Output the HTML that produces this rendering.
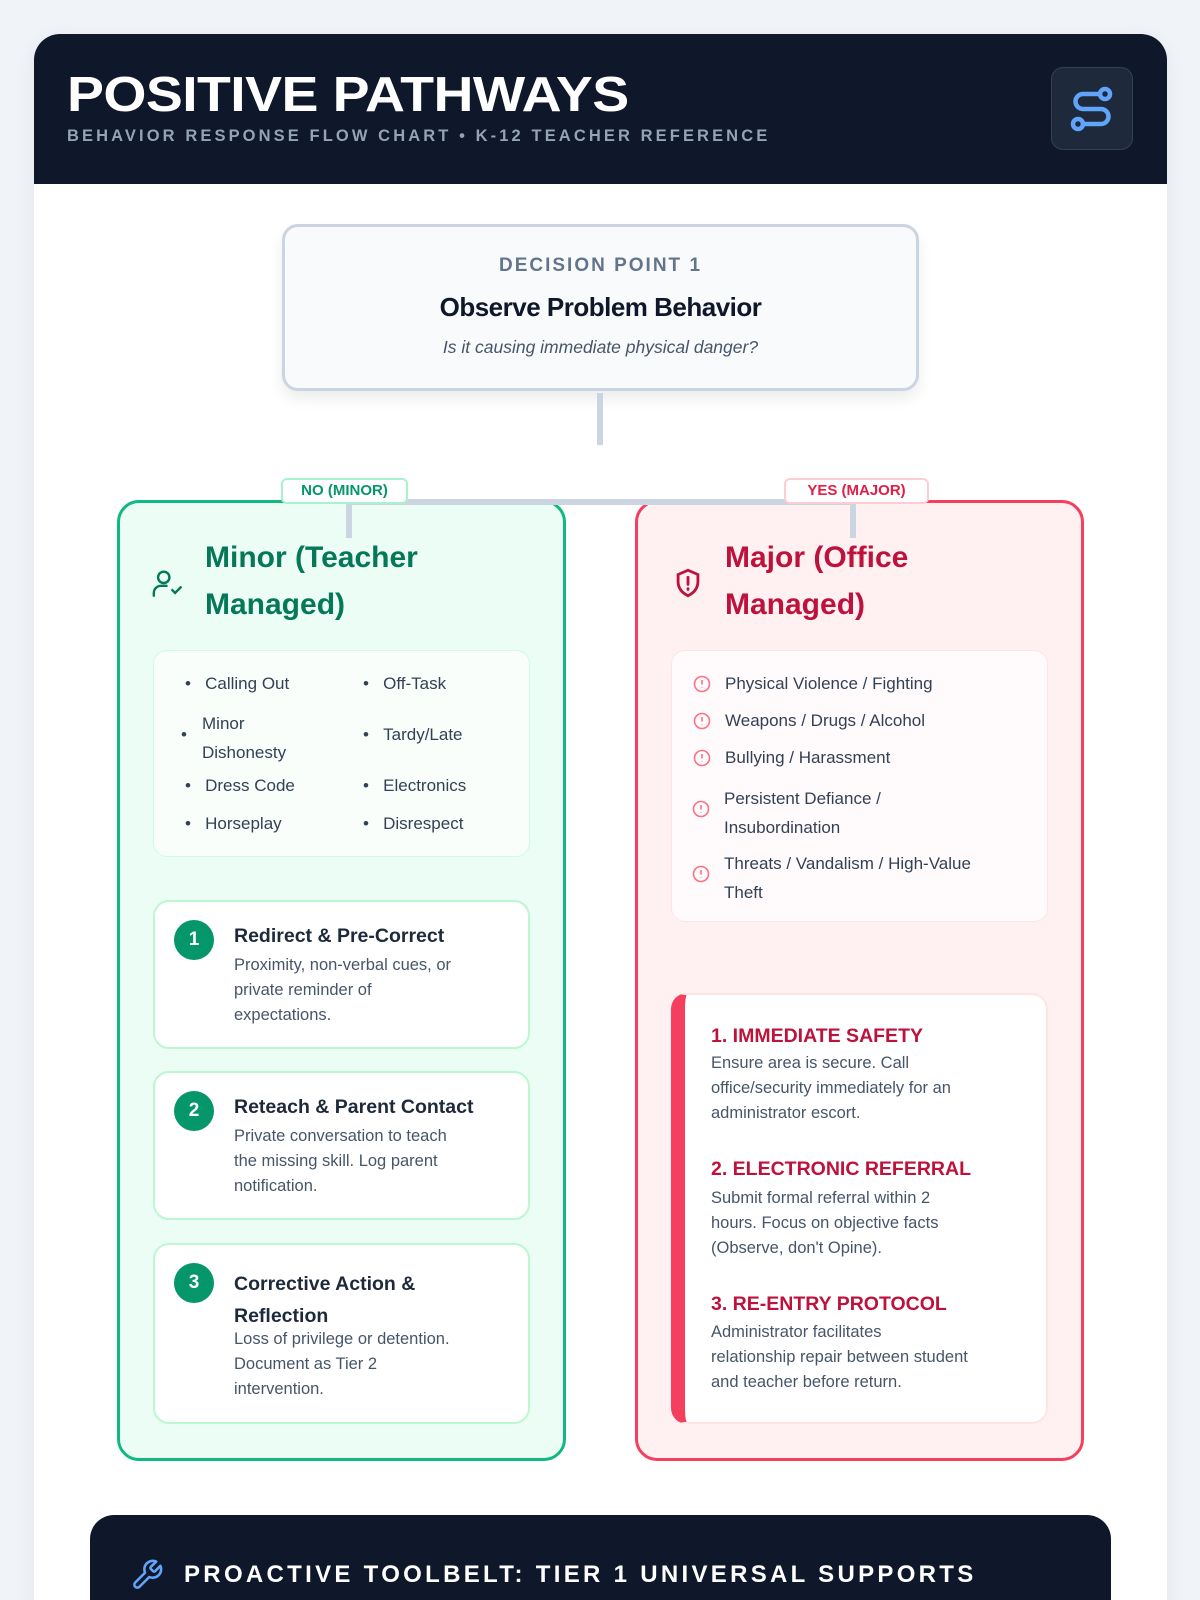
<!DOCTYPE html>
<html style="width:1200px;height:1600px;overflow:hidden"><head><meta charset="utf-8"><style>
*{box-sizing:border-box;margin:0;padding:0}
body{width:1200px;height:1600px;overflow:hidden;background:#f0f3f7;font-family:"Liberation Sans",sans-serif}
#wrap{position:relative;width:1200px;height:1600px;overflow:hidden}
.a{position:absolute}
.card{left:34px;top:34px;width:1133px;height:1600px;background:#fff;border-radius:26px;overflow:hidden;box-shadow:0 4px 20px rgba(15,23,42,.06)}
.hdr{left:0;top:0;width:1133px;height:150px;background:#0f172a}
.t{white-space:nowrap}
.li{font-size:17px;color:#334155}
.step{background:#fff;border:2px solid #bbf7d0;border-radius:16px}
.num{width:40px;height:40px;border-radius:50%;background:#059669;color:#fff;font-weight:bold;font-size:19px;text-align:center;line-height:40px}
.st{font-size:19.5px;font-weight:bold;color:#1e293b}
.sd{font-size:16.5px;color:#475569;line-height:25px}
.mh{font-size:19.5px;font-weight:bold;color:#be123c}
.md{font-size:16.5px;color:#475569;line-height:25px}
</style></head><body><div id="wrap">
<div class="a card">
 <div class="a hdr"></div>
 <div class="a t" style="left:33px;top:33px;font-size:49px;font-weight:900;color:#fff;letter-spacing:-0.5px;transform:scaleX(1.13);transform-origin:0 0">POSITIVE PATHWAYS</div>
 <div class="a t" style="left:33px;top:93px;font-size:16.5px;font-weight:bold;color:#94a3b8;letter-spacing:3.1px">BEHAVIOR RESPONSE FLOW CHART • K-12 TEACHER REFERENCE</div>
 <div class="a" style="left:1017px;top:33px;width:82px;height:83px;background:#1e293b;border-radius:12px;border:1px solid #334155"></div>
 <svg class="a" style="left:1033px;top:50px" width="50" height="50" viewBox="0 0 50 50" fill="none" stroke="#60a5fa" stroke-width="4.5" stroke-linecap="round"><circle cx="38" cy="10" r="5"/><circle cx="11" cy="40" r="5"/><path d="M33 10H16a7.5 7.5 0 0 0 0 15h18a7.5 7.5 0 0 1 0 15H16"/></svg>
</div>

<div class="a" style="left:282px;top:224px;width:637px;height:167px;background:#f8fafc;border:3px solid #cbd5e1;border-radius:16px;box-shadow:0 8px 14px rgba(15,23,42,.08)"></div>
<div class="a t" style="left:282px;width:637px;top:255px;text-align:center;font-size:19px;font-weight:bold;color:#64748b;letter-spacing:2px">DECISION POINT 1</div>
<div class="a t" style="left:282px;width:637px;top:292px;text-align:center;font-size:26px;font-weight:bold;color:#0f172a;letter-spacing:-.5px">Observe Problem Behavior</div>
<div class="a t" style="left:282px;width:637px;top:337px;text-align:center;font-size:17.5px;font-style:italic;color:#475569">Is it causing immediate physical danger?</div>
<div class="a" style="left:597px;top:393px;width:6px;height:52px;background:#cbd5e1"></div>

<div class="a" style="left:117px;top:500px;width:449px;height:961px;background:#ecfdf5;border:3px solid #10b981;border-radius:22px"></div>
<div class="a" style="left:635px;top:500px;width:449px;height:961px;background:#fff1f2;border:3px solid #f43f5e;border-radius:22px"></div>
<div class="a" style="left:346px;top:499px;width:510px;height:6px;background:#cbd5e1"></div>
<div class="a" style="left:346px;top:499px;width:6px;height:39px;background:#cbd5e1"></div>
<div class="a" style="left:850px;top:499px;width:6px;height:39px;background:#cbd5e1"></div>
<div class="a t" style="left:281px;top:478px;width:127px;height:26px;background:#fff;border:2px solid #a7f3d0;border-radius:6px;text-align:center;font-size:15px;font-weight:bold;color:#059669;line-height:22px">NO (MINOR)</div>
<div class="a t" style="left:784px;top:478px;width:145px;height:26px;background:#fff;border:2px solid #fecdd3;border-radius:6px;text-align:center;font-size:15px;font-weight:bold;color:#e11d48;line-height:22px">YES (MAJOR)</div>

<svg class="a" style="left:151px;top:566px" width="34" height="34" viewBox="0 0 24 24" fill="none" stroke="#047857" stroke-width="1.7" stroke-linecap="round"><circle cx="9" cy="8" r="4"/><path d="M2 21v-2a5 5 0 0 1 5-5h4"/><path d="M15 17l2 2 4-4"/></svg>
<div class="a" style="left:205px;top:534px;font-size:30px;font-weight:bold;color:#047857;line-height:47px">Minor (Teacher<br>Managed)</div>
<svg class="a" style="left:671px;top:566px" width="34" height="34" viewBox="0 0 24 24" fill="none" stroke="#be123c" stroke-width="2" stroke-linecap="round"><path d="M12 3l7 3v5c0 5-3 8-7 10-4-2-7-5-7-10V6z"/><path d="M12 8v5M12 16v.5"/></svg>
<div class="a" style="left:725px;top:534px;font-size:30px;font-weight:bold;color:#be123c;line-height:47px">Major (Office<br>Managed)</div>

<div class="a" style="left:153px;top:650px;width:377px;height:207px;background:#f9fefb;border:1.5px solid #d1fae5;border-radius:14px"></div>
<div class="a li t" style="left:185px;top:674px">•&nbsp;&nbsp;&nbsp;Calling Out</div>
<div class="a li t" style="left:363px;top:674px">•&nbsp;&nbsp;&nbsp;Off-Task</div>
<div class="a li t" style="left:181px;top:725px">•</div>
<div class="a li" style="left:202px;top:709px;line-height:29px">Minor<br>Dishonesty</div>
<div class="a li t" style="left:363px;top:725px">•&nbsp;&nbsp;&nbsp;Tardy/Late</div>
<div class="a li t" style="left:185px;top:776px">•&nbsp;&nbsp;&nbsp;Dress Code</div>
<div class="a li t" style="left:363px;top:776px">•&nbsp;&nbsp;&nbsp;Electronics</div>
<div class="a li t" style="left:185px;top:814px">•&nbsp;&nbsp;&nbsp;Horseplay</div>
<div class="a li t" style="left:363px;top:814px">•&nbsp;&nbsp;&nbsp;Disrespect</div>

<div class="a step" style="left:153px;top:900px;width:377px;height:149px"></div>
<div class="a num" style="left:174px;top:920px">1</div>
<div class="a st t" style="left:234px;top:925px">Redirect &amp; Pre-Correct</div>
<div class="a sd" style="left:234px;top:953px">Proximity, non-verbal cues, or<br>private reminder of<br>expectations.</div>

<div class="a step" style="left:153px;top:1071px;width:377px;height:149px"></div>
<div class="a num" style="left:174px;top:1091px">2</div>
<div class="a st t" style="left:234px;top:1096px">Reteach &amp; Parent Contact</div>
<div class="a sd" style="left:234px;top:1124px">Private conversation to teach<br>the missing skill. Log parent<br>notification.</div>

<div class="a step" style="left:153px;top:1243px;width:377px;height:181px"></div>
<div class="a num" style="left:174px;top:1263px">3</div>
<div class="a st" style="left:234px;top:1268px;line-height:32px">Corrective Action &amp;<br>Reflection</div>
<div class="a sd" style="left:234px;top:1327px">Loss of privilege or detention.<br>Document as Tier 2<br>intervention.</div>

<div class="a" style="left:671px;top:650px;width:377px;height:272px;background:#fffafb;border:1.5px solid #ffe4e6;border-radius:14px"></div>
<div class="a li t" style="left:725px;top:674px">Physical Violence / Fighting</div>
<div class="a li t" style="left:725px;top:711px">Weapons / Drugs / Alcohol</div>
<div class="a li t" style="left:725px;top:748px">Bullying / Harassment</div>
<div class="a li" style="left:724px;top:784px;line-height:29px">Persistent Defiance /<br>Insubordination</div>
<div class="a li" style="left:724px;top:849px;line-height:29px">Threats / Vandalism / High-Value<br>Theft</div>
<svg class="a" style="left:692px;top:674px" width="20" height="220" fill="none" stroke="#fb7185" stroke-width="1.6">
 <g><circle cx="10" cy="10" r="7.5"/><path d="M10 6v4.5M10 13v.5"/></g>
 <g transform="translate(0,37)"><circle cx="10" cy="10" r="7.5"/><path d="M10 6v4.5M10 13v.5"/></g>
 <g transform="translate(0,74)"><circle cx="10" cy="10" r="7.5"/><path d="M10 6v4.5M10 13v.5"/></g>
 <g transform="translate(-1,125)"><circle cx="10" cy="10" r="7.5"/><path d="M10 6v4.5M10 13v.5"/></g>
 <g transform="translate(-1,190)"><circle cx="10" cy="10" r="7.5"/><path d="M10 6v4.5M10 13v.5"/></g>
</svg>

<div class="a" style="left:671px;top:993px;width:377px;height:431px;background:#fff;border:2px solid #ffe4e6;border-left:14px solid #f43f5e;border-radius:16px"></div>
<div class="a mh t" style="left:711px;top:1025px">1. IMMEDIATE SAFETY</div>
<div class="a md" style="left:711px;top:1051px">Ensure area is secure. Call<br>office/security immediately for an<br>administrator escort.</div>
<div class="a mh t" style="left:711px;top:1158px">2. ELECTRONIC REFERRAL</div>
<div class="a md" style="left:711px;top:1186px">Submit formal referral within 2<br>hours. Focus on objective facts<br>(Observe, don't Opine).</div>
<div class="a mh t" style="left:711px;top:1293px">3. RE-ENTRY PROTOCOL</div>
<div class="a md" style="left:711px;top:1320px">Administrator facilitates<br>relationship repair between student<br>and teacher before return.</div>

<div class="a" style="left:90px;top:1515px;width:1021px;height:120px;background:#0f172a;border-radius:24px"></div>
<svg class="a" style="left:130px;top:1558px" width="34" height="34" viewBox="0 0 24 24" fill="none" stroke="#60a5fa" stroke-width="1.8" stroke-linejoin="round"><path d="M14.7 6.3a1 1 0 0 0 0 1.4l1.6 1.6a1 1 0 0 0 1.4 0l3.8-3.8a6 6 0 0 1-7.9 7.9l-6.9 6.9a2.1 2.1 0 0 1-3-3l6.9-6.9a6 6 0 0 1 7.9-7.9z"/></svg>
<div class="a t" style="left:184px;top:1561px;font-size:24px;font-weight:bold;color:#fff;letter-spacing:3.3px">PROACTIVE TOOLBELT: TIER 1 UNIVERSAL SUPPORTS</div>
</div></body></html>
